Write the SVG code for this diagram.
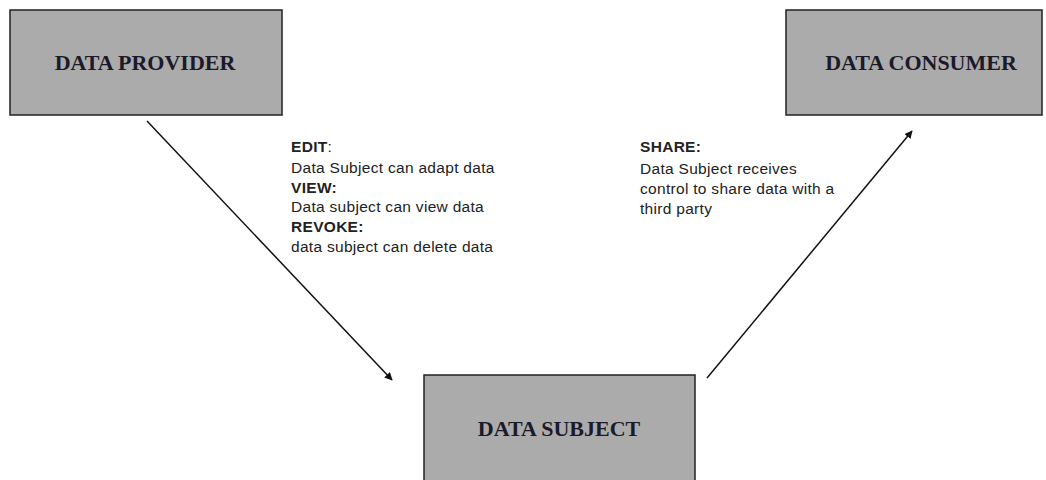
<svg xmlns="http://www.w3.org/2000/svg" width="1046" height="480" viewBox="0 0 1046 480">
<style>
.box{fill:#ababab;stroke:#222;stroke-width:1.5}
.title{font-family:"Liberation Serif",serif;font-weight:bold;font-size:22px;fill:#1a1a2a;text-anchor:middle}
.lbl{font-family:"Liberation Sans",Arial,sans-serif;font-size:15.5px;letter-spacing:0.3px;fill:#222}
.b{font-weight:bold}
.conn{stroke:#111;stroke-width:1.5;fill:none}
</style>
<defs>
<marker id="arr" viewBox="0 0 10 10" refX="9" refY="5" markerWidth="8" markerHeight="8" orient="auto" markerUnits="userSpaceOnUse">
<path d="M0,0 L10,5 L0,10 z" fill="#111"/>
</marker>
</defs>
<rect width="1046" height="480" fill="#fff"/>
<g id="data-provider">
<rect class="box" x="10" y="10" width="272" height="105"/>
<text class="title" x="145" y="70">DATA PROVIDER</text>
</g>
<g id="data-consumer">
<rect class="box" x="786" y="10" width="256" height="105"/>
<text class="title" x="921" y="70">DATA CONSUMER</text>
</g>
<g id="data-subject">
<rect class="box" x="424" y="375" width="271" height="110"/>
<text class="title" x="559" y="436">DATA SUBJECT</text>
</g>
<g id="connectors">
<line class="conn" x1="147" y1="121" x2="392" y2="380" marker-end="url(#arr)"/>
<line class="conn" x1="707" y1="378" x2="912" y2="131" marker-end="url(#arr)"/>
</g>
<g id="labels">
<text class="lbl" x="291" y="152"><tspan class="b">EDIT</tspan>:</text>
<text class="lbl" x="291" y="173">Data Subject can adapt data</text>
<text class="lbl b" x="291" y="193">VIEW:</text>
<text class="lbl" x="291" y="212">Data subject can view data</text>
<text class="lbl b" x="291" y="232">REVOKE:</text>
<text class="lbl" x="291" y="252">data subject can delete data</text>
<text class="lbl b" x="640" y="152">SHARE:</text>
<text class="lbl" x="640" y="174">Data Subject receives</text>
<text class="lbl" x="640" y="194">control to share data with a</text>
<text class="lbl" x="640" y="214">third party</text>
</g>
</svg>
